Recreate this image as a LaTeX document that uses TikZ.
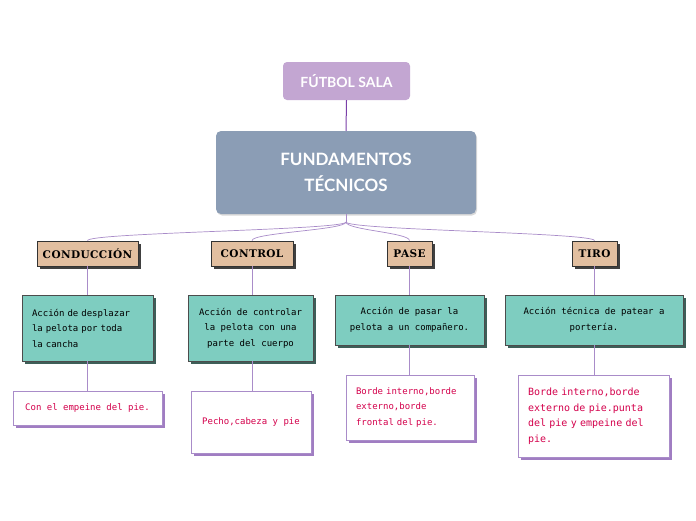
\documentclass[tikz,border=0pt]{standalone}
\usepackage{fontspec}
\setmainfont{Lato}
\newfontfamily\headfont[LetterSpace=4]{DejaVu Serif}
\newfontfamily\boxfont{DejaVu Sans Mono}
\usetikzlibrary{shadows,calc}
\definecolor{lav}{HTML}{C3A6D2}
\definecolor{slate}{HTML}{8B9DB5}
\definecolor{tan}{HTML}{E2BFA0}
\definecolor{teal}{HTML}{7ECDC0}
\definecolor{tealshadow}{HTML}{3E5E58}
\definecolor{lineP}{HTML}{A98CC9}
\definecolor{darkP}{HTML}{7A3FA8}
\definecolor{txtred}{HTML}{D4004C}
\tikzset{
  titlebox/.style={rounded corners=4pt, fill=lav, text=white, font=\bfseries\fontsize{14}{16}\selectfont, minimum width=127pt, minimum height=38pt, inner sep=0pt},
  mainbox/.style={rounded corners=5pt, fill=slate, text=white, font=\bfseries\fontsize{17}{26}\selectfont, align=center, minimum width=260pt, minimum height=83pt, inner sep=0pt,
    drop shadow={shadow xshift=1pt, shadow yshift=-1.5pt, fill=black, opacity=0.15}},
  headbox/.style={fill=tan, draw=black!80, line width=0.8pt, font=\headfont\bfseries\fontsize{10.5}{12}\selectfont, minimum height=25pt, inner sep=0pt,
    drop shadow={shadow xshift=3pt, shadow yshift=-3pt, fill=black!75, opacity=1}},
  greenbox/.style={fill=teal, draw=black!70, line width=0.8pt, font=\boxfont\fontsize{9}{15.5}\selectfont, inner sep=0pt,
    drop shadow={shadow xshift=3pt, shadow yshift=-3pt, fill=tealshadow, opacity=1}},
  pinkbox/.style={fill=white, draw=lineP, line width=0.9pt, text=txtred, font=\boxfont\fontsize{9}{15.5}\selectfont, inner sep=0pt,
    drop shadow={shadow xshift=3pt, shadow yshift=-3pt, fill=lineP!80!darkP, opacity=1}},
  conn/.style={draw=lineP, line width=0.7pt},
}
\begin{document}
\begin{tikzpicture}[x=1pt,y=-1pt]
\useasboundingbox (0,0) rectangle (696,520);
\fill[white] (0,0) rectangle (696,520);

\node[titlebox] (fs) at (346.5,81) {FÚTBOL SALA};
\node[mainbox] (ft) at (346,172.5) {FUNDAMENTOS\\TÉCNICOS};

\node[headbox, minimum width=101pt] (h1) at (87.5,253.5) {CONDUCCIÓN};
\node[headbox, minimum width=82pt] (h2) at (252,253.5) {CONTROL};
\node[headbox, minimum width=45pt] (h3) at (409.5,253.5) {PASE};
\node[headbox, minimum width=45pt] (h4) at (594.5,253.5) {TIRO};

\node[greenbox, minimum width=131pt, minimum height=66pt, text width=131pt, align=left] (g1) at (87.5,328)
  {\hspace*{10pt}Acción de desplazar\\\hspace*{10pt}la pelota por toda\\\hspace*{10pt}la cancha};
\node[greenbox, minimum width=125pt, minimum height=66pt, align=center] (g2) at (250.5,328)
  {Acción de controlar\\la pelota con una\\parte del cuerpo};
\node[greenbox, minimum width=149pt, minimum height=50pt, align=center] (g3) at (409.5,320)
  {Acción de pasar la\\pelota a un compañero.};
\node[greenbox, minimum width=178pt, minimum height=50pt, align=center] (g4) at (594,320)
  {Acción técnica de patear a\\portería.};

\node[pinkbox, minimum width=149pt, minimum height=34pt] (p1) at (87.5,408) {Con el empeine del pie.};
\node[pinkbox, minimum width=120pt, minimum height=62pt] (p2) at (251,422) {Pecho,cabeza y pie};
\node[pinkbox, minimum width=128pt, minimum height=65pt, text width=128pt, align=left] (p3) at (410,407.5)
  {\hspace*{10pt}Borde interno,borde\\\hspace*{10pt}externo,borde\\\hspace*{10pt}frontal del pie.};
\node[pinkbox, minimum width=151pt, minimum height=82pt, text width=151pt, align=left, font=\boxfont\fontsize{10}{15.5}\selectfont] (p4) at (593.5,416)
  {\hspace*{10pt}Borde interno,borde\\\hspace*{10pt}externo de pie.punta\\\hspace*{10pt}del pie y empeine del\\\hspace*{10pt}pie.};

\draw[draw=darkP, line width=1pt] (fs.south) -- (ft.north);
\coordinate (fork) at (346,222);
\draw[conn] (ft.south) -- (fork);
\foreach \h in {h1,h2,h3,h4}{
  \draw[conn] (fork) .. controls (346,230) and ($(\h.north)+(0,-8)$) .. (\h.north);
}
\draw[conn] (h1.south) -- (h1.south |- g1.north);
\draw[conn] (h2.south) -- (h2.south |- g2.north);
\draw[conn] (h3.south) -- (h3.south |- g3.north);
\draw[conn] (h4.south) -- (h4.south |- g4.north);
\draw[conn] (h1.south |- g1.south) -- (h1.south |- p1.north);
\draw[conn] (h2.south |- g2.south) -- (h2.south |- p2.north);
\draw[conn] (h3.south |- g3.south) -- (h3.south |- p3.north);
\draw[conn] (h4.south |- g4.south) -- (h4.south |- p4.north);
\end{tikzpicture}
\end{document}
